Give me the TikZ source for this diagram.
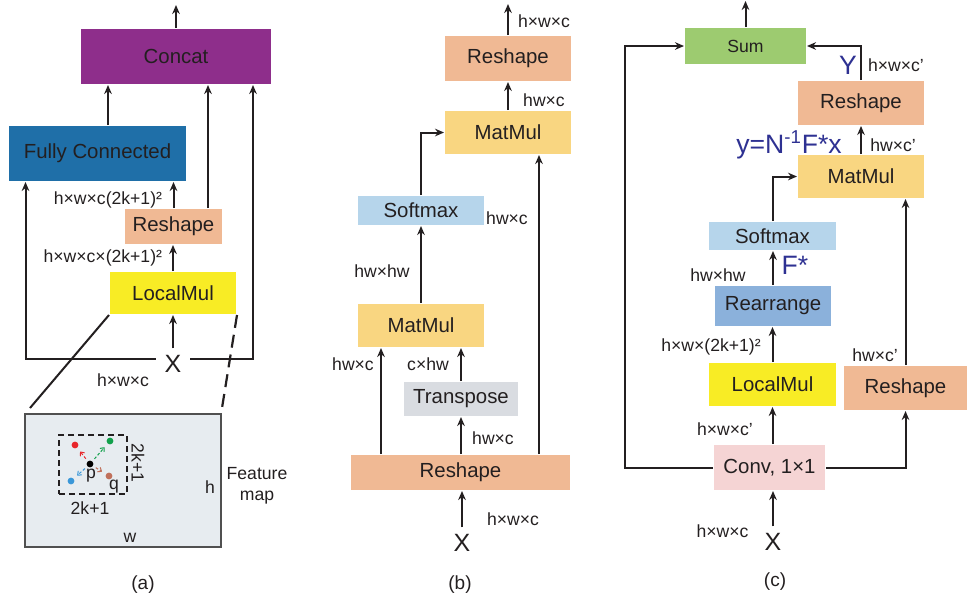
\documentclass[tikz,border=0pt]{standalone}
\usepackage{fontspec}
\setmainfont{Liberation Sans}
\usepackage{tikz}
\usetikzlibrary{arrows.meta, positioning, calc}
\definecolor{cText}{HTML}{231F20}
\definecolor{cBlue}{HTML}{2E3192}
\definecolor{cConcat}{HTML}{8E2E8B}
\definecolor{cFc}{HTML}{1F6FA8}
\definecolor{cResh}{HTML}{F0B994}
\definecolor{cLocal}{HTML}{F8EC25}
\definecolor{cMat}{HTML}{F9D681}
\definecolor{cSoft}{HTML}{B6D5EB}
\definecolor{cTrans}{HTML}{D9DCE1}
\definecolor{cSum}{HTML}{9DCB70}
\definecolor{cRearr}{HTML}{8BB1DB}
\definecolor{cConv}{HTML}{F5D4D4}
\definecolor{cFmap}{HTML}{E7ECF0}
\definecolor{cFmapB}{HTML}{505050}
\definecolor{cRed}{HTML}{E8262B}
\definecolor{cGreen}{HTML}{11A04B}
\definecolor{cSky}{HTML}{3A97D8}
\definecolor{cBrown}{HTML}{C0705B}

\begin{document}
\begin{tikzpicture}[x=0.5pt, y=-0.5pt, color=cText, line width=1pt,
      >={Stealth[length=4.5pt, width=3.8pt]},
      blk/.style={inner sep=0pt, font=\fontsize{10.2}{12}\selectfont},
      sz/.style 2 args={minimum width=#1, minimum height=#2},
      lbl/.style={inner sep=0pt, font=\fontsize{8.8}{10.5}\selectfont},
      blu/.style={inner sep=0pt, text=cBlue, font=\fontsize{13.3}{15}\selectfont},
      inx/.style={inner xsep=4pt, inner ysep=3pt, font=\fontsize{12.5}{14}\selectfont},
      subcap/.style={inner sep=0pt, font=\fontsize{9.5}{11}\selectfont},
      dot/.style={circle, inner sep=0pt, minimum size=3.4pt, fill=#1},
      gl/.style={line width=1.1pt, dash pattern=on 6.5pt off 3.5pt},
      pl/.style={->, >={To[length=2pt, width=3pt]}, line width=0.5pt,
                 dash pattern=on 1.4pt off 1pt, shorten >=2pt, shorten <=1.2pt, draw=#1}]
    \useasboundingbox (0,0) rectangle (967,602);

    % (a)
    \node[blk, sz={95pt}{27.5pt}, fill=cConcat] (concat) at (176,56.5) {Concat};
    \node[blk, sz={88.5pt}{27.5pt}, fill=cFc] (fc) at (97.5,153.5) {Fully Connected};
    \node[blk, sz={48.5pt}{17.5pt}, fill=cResh] (reshA) at (173.5,226.5) {Reshape};
    \node[blk, sz={63pt}{21pt}, fill=cLocal] (lmA) at (173,293) {LocalMul};
    \node[inx] (xA) at (173,364) {X};
    \coordinate (fa) at ($(fc.north)+(10.5,0)$);
    \coordinate (ra) at ($(reshA.north east)+(-15,0)$);
    \draw[->] (concat.north) -- ++(0,-23);
    \draw[->] (fa) -- (fa |- concat.south);
    \draw[->] (ra) -- (ra |- concat.south);
    \draw[->] (reshA.north) -- (reshA.north |- fc.south);
    \draw[->] (lmA.north) -- (lmA.north |- reshA.south);
    \draw[->] (xA.north) -- (xA.north |- lmA.south);
    \draw[->] ([yshift=2.5pt]xA.west) -| ($(fc.south west)+(17.5,0)$);
    \draw[->] ([yshift=2.5pt]xA.east) -| ($(concat.south east)+(-19,0)$);
    \node[lbl, anchor=east] (da1) at (163,200) {h×w×c(2k+1)²};
    \node[lbl, anchor=east] (da2) at (163,258) {h×w×c×(2k+1)²};
    \node[lbl] (da3) at (123,380) {h×w×c};

    \node[draw=cFmapB, line width=0.6pt, fill=cFmap, sz={98pt}{66.5pt}, inner sep=0pt] (fmap) at (123,480.5) {};
    \coordinate (fl) at (30,408);
    \coordinate (fr) at (222,408);
    \draw[line width=1pt] (lmA.south west) -- (fl);
    \draw[gl] (lmA.south east) -- (fr);
    \node[draw, line width=0.8pt, dash pattern=on 3pt off 2pt, sz={34pt}{29.5pt}, inner sep=0pt] (win) at (93,464.5) {};
    \node[dot=cRed] (dr) at (75,445) {};
    \node[dot=cGreen] (dg) at (110,441) {};
    \node[dot=cSky] (ds) at (71,481) {};
    \node[dot=cBrown] (dq) at (109,476) {};
    \node[dot=black] (dp) at (90,464) {};
    \draw[pl=cRed] (dp) -- (dr);
    \draw[pl=cGreen] (dp) -- (dg);
    \draw[pl=cSky] (dp) -- (ds);
    \draw[pl=cBrown] (dp) -- (dq);
    \node[lbl] (lp) at (91,476) {p};
    \node[lbl] (lq) at (114,487) {q};
    \node[lbl] (wk) at (90,508) {2k+1};
    \node[lbl, rotate=-90] (hk) at (138,463) {2k+1};
    \node[lbl] (lh) at (210,487) {h};
    \node[lbl] (lw) at (130,538) {w};
    \node[lbl, align=center] (lfm) at (257,486) {Feature\\map};
    \node[subcap] (capA) at (143,585) {(a)};

    % (b)
    \node[blk, sz={63pt}{22.5pt}, fill=cResh] (rsOutB) at (508,58.5) {Reshape};
    \node[blk, sz={63pt}{21.5pt}, fill=cMat] (mmUpB) at (508,132.5) {MatMul};
    \node[blk, sz={63pt}{14.5pt}, fill=cSoft] (smB) at (421,210.5) {Softmax};
    \node[blk, sz={63pt}{21.5pt}, fill=cMat] (mmLoB) at (421,325.5) {MatMul};
    \node[blk, sz={57pt}{17pt}, fill=cTrans] (trB) at (461,399) {Transpose};
    \node[blk, sz={109.5pt}{17.5pt}, fill=cResh] (rsInB) at (460.5,472.5) {Reshape};
    \node[inx] (xB) at (462,543) {X};
    \coordinate (rbL) at ($(rsInB.north west)+(31,0)$);
    \coordinate (rbR) at ($(rsInB.north east)+(-32,0)$);
    \draw[->] (rsOutB.north) -- ++(0,-31);
    \draw[->] (mmUpB.north) -- (rsOutB.south);
    \draw[->] (smB.north) |- (mmUpB.west);
    \draw[->] (mmLoB.north) -- (smB.south);
    \draw[->] (rbL) -- (rbL |- mmLoB.south);
    \draw[->] (rbR) -- (rbR |- mmUpB.south);
    \draw[->] (trB.north) -- (trB.north |- mmLoB.south);
    \draw[->] (trB.south |- rsInB.north) -- (trB.south);
    \draw[->] (xB.north) -- (xB.north |- rsInB.south);
    \node[lbl] (db1) at (544,21) {h×w×c};
    \node[lbl] (db2) at (544,100) {hw×c};
    \node[lbl] (db3) at (507,218) {hw×c};
    \node[lbl] (db4) at (382,271) {hw×hw};
    \node[lbl] (db5) at (353,364) {hw×c};
    \node[lbl] (db6) at (428,364) {c×hw};
    \node[lbl] (db7) at (493,438) {hw×c};
    \node[lbl] (db8) at (513,519) {h×w×c};
    \node[subcap] (capB) at (460,585) {(b)};

    % (c)
    \node[blk, sz={60.5pt}{18pt}, fill=cSum, font=\fontsize{8.8}{10.5}\selectfont] (sumC) at (745.5,46) {Sum};
    \node[blk, sz={63pt}{22pt}, fill=cResh] (rsOutC) at (861,103) {Reshape};
    \node[blk, sz={63pt}{21.5pt}, fill=cMat] (mmC) at (861,176.5) {MatMul};
    \node[blk, sz={63.5pt}{14pt}, fill=cSoft] (smC) at (772.5,236) {Softmax};
    \node[blk, sz={58pt}{20pt}, fill=cRearr] (raC) at (773,306) {Rearrange};
    \node[blk, sz={63.5pt}{21.5pt}, fill=cLocal] (lmC) at (772.5,384.5) {LocalMul};
    \node[blk, sz={61.5pt}{22pt}, fill=cResh] (rsSideC) at (905.5,388) {Reshape};
    \node[blk, sz={55.5pt}{22.5pt}, fill=cConv] (convC) at (769.5,467.5) {Conv, 1×1};
    \node[inx] (xC) at (773,542) {X};
    \draw[->] (sumC.north) -- ++(0,-26);
    \draw[->] (convC.west) -| ($(sumC.west)+(-59,0)$) -- (sumC.west);
    \draw[->] (rsOutC.north) |- (sumC.east);
    \draw[->] (mmC.north) -- (rsOutC.south);
    \draw[->] (smC.north) |- (mmC.west);
    \draw[->] (rsSideC.north) -- (rsSideC.north |- mmC.south);
    \draw[->] (raC.north) -- (raC.north |- smC.south);
    \draw[->] (lmC.north) -- (lmC.north |- raC.south);
    \draw[->] (lmC.south |- convC.north) -- (lmC.south);
    \draw[->] (convC.east) -| (rsSideC.south);
    \draw[->] (xC.north) -- (xC.north |- convC.south);
    \node[blu] (cy) at (848,65) {Y};
    \node[lbl] (dc1) at (896,65) {h×w×c'};
    \node[lbl] (dc2) at (893,145) {hw×c'};
    \node[blu] (ceq) at (789,145) {y=N\textsuperscript{-1}F*x};
    \node[blu] (cf) at (795,265) {F*};
    \node[lbl] (dc3) at (718,275) {hw×hw};
    \node[lbl] (dc4) at (711,347) {h×w×(2k+1)²};
    \node[lbl] (dc5) at (875,355) {hw×c'};
    \node[lbl] (dc6) at (725,429) {h×w×c'};
    \node[lbl] (dc7) at (722.5,531) {h×w×c};
    \node[subcap] (capC) at (775,582) {(c)};
  \end{tikzpicture}
\end{document}
